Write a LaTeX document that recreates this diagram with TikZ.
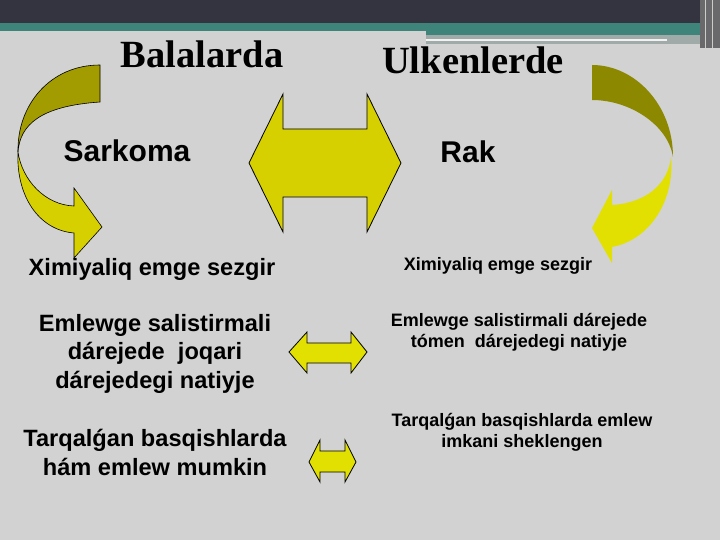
\documentclass[tikz,border=0pt]{standalone}
\usepackage{fontspec}
\setmainfont{Liberation Serif}
\newfontfamily\arialf{Liberation Sans}
\definecolor{bgc}{RGB}{210,210,210}
\definecolor{darkbar}{RGB}{52,52,64}
\definecolor{tealband}{RGB}{62,132,122}
\definecolor{graystrip}{RGB}{160,170,168}
\definecolor{olivec}{RGB}{163,156,0}
\definecolor{olived}{RGB}{140,136,0}
\definecolor{yellowc}{RGB}{214,208,0}
\definecolor{yellowb}{RGB}{226,224,0}
\begin{document}
\begin{tikzpicture}[x=1pt,y=-1pt,
  title/.style={font=\bfseries\fontsize{38.5}{42}\selectfont, anchor=base, inner sep=0pt},
  lbl/.style={font=\arialf\bfseries\fontsize{30}{34}\selectfont, anchor=base, inner sep=0pt},
  lefttxt/.style={font=\arialf\bfseries\fontsize{23.6}{28.5}\selectfont, align=center, anchor=base, inner sep=0pt},
  righttxt/.style={font=\arialf\bfseries\fontsize{18}{20.7}\selectfont, align=center, anchor=base, inner sep=0pt},
  dblarrow/.style={fill=yellowc, draw=black, line width=0.8pt, line join=miter},
  smallarrow/.style={fill=yellowb, draw=black, line width=0.8pt, line join=miter}]
\useasboundingbox (0,0) rectangle (720,540);
\fill[bgc] (0,0) rectangle (720,540);
% header
\fill[darkbar] (0,0) rectangle (720,23);
\fill[tealband] (0,23) rectangle (720,31);
\fill[tealband] (426,31) rectangle (700,35);
\fill[graystrip] (426,35) rectangle (700,44);
\draw[white!90!gray, line width=1.5pt] (426,40) -- (667,40);
\fill[gray!70!darkbar] (700,0) rectangle (720,48);
\draw[gray!40, line width=1pt] (705,0) -- (705,48) (712,0) -- (712,48);

% left curved arrow
\fill[olivec, draw=black, line width=0.6pt] (100,65) .. controls (50,65) and (17,105) .. (18,152)
  .. controls (20,125) and (40,106) .. (100,102) -- cycle;
\fill[yellowc, draw=black, line width=0.6pt] (18,152) .. controls (22,180) and (45,205) .. (74,206)
  -- (74,188) -- (102,227) -- (74,258) -- (74,233)
  .. controls (38,230) and (16,195) .. (18,152) -- cycle;

% right curved arrow
\fill[olived] (592,65) .. controls (635,65) and (673,105) .. (673,157)
  .. controls (668,125) and (630,100) .. (592,100) -- cycle;
\fill[yellowb] (671,157) .. controls (668,185) and (645,203) .. (612,205)
  -- (612,190) -- (592,228) -- (612,263) -- (612,247)
  .. controls (650,240) and (675,200) .. (671,157) -- cycle;

% big double arrow
\draw[dblarrow] (249,163) -- (283,94) -- (283,129) -- (367,129) -- (367,94) -- (401,163)
  -- (367,232) -- (367,197) -- (283,197) -- (283,232) -- cycle;
% small double arrows
\draw[smallarrow] (289,352) -- (307,332) -- (307,343) -- (351,343) -- (351,332) -- (367,352)
  -- (351,373) -- (351,363) -- (307,363) -- (307,373) -- cycle;
\draw[smallarrow] (309,462) -- (320,440) -- (320,451) -- (345,451) -- (345,440) -- (356,462)
  -- (345,482) -- (345,472) -- (320,472) -- (320,482) -- cycle;

% titles
\node[title] (bal) at (202,68) {Balalarda};
\node[title] (ulk) at (473,74) {Ulkenlerde};
\node[lbl] (sar) at (127,162) {Sarkoma};
\node[lbl] (rak) at (468,163) {Rak};

% left texts (base = last line)
\node[lefttxt] (l1) at (152,275) {Ximiyaliq emge sezgir};
\node[lefttxt] (l2) at (155,388) {Emlewge salistirmali\\dárejede\ \ joqari\\dárejedegi natiyje};
\node[lefttxt] (l3) at (155,475) {Tarqalǵan basqishlarda\\hám emlew mumkin};

% right texts
\node[righttxt] (r1) at (498,270) {Ximiyaliq emge sezgir};
\node[righttxt] (r2) at (519,347) {Emlewge salistirmali dárejede\\tómen\ \ dárejedegi natiyje};
\node[righttxt] (r3) at (522,447) {Tarqalǵan basqishlarda emlew\\imkani sheklengen};
\end{tikzpicture}
\end{document}
